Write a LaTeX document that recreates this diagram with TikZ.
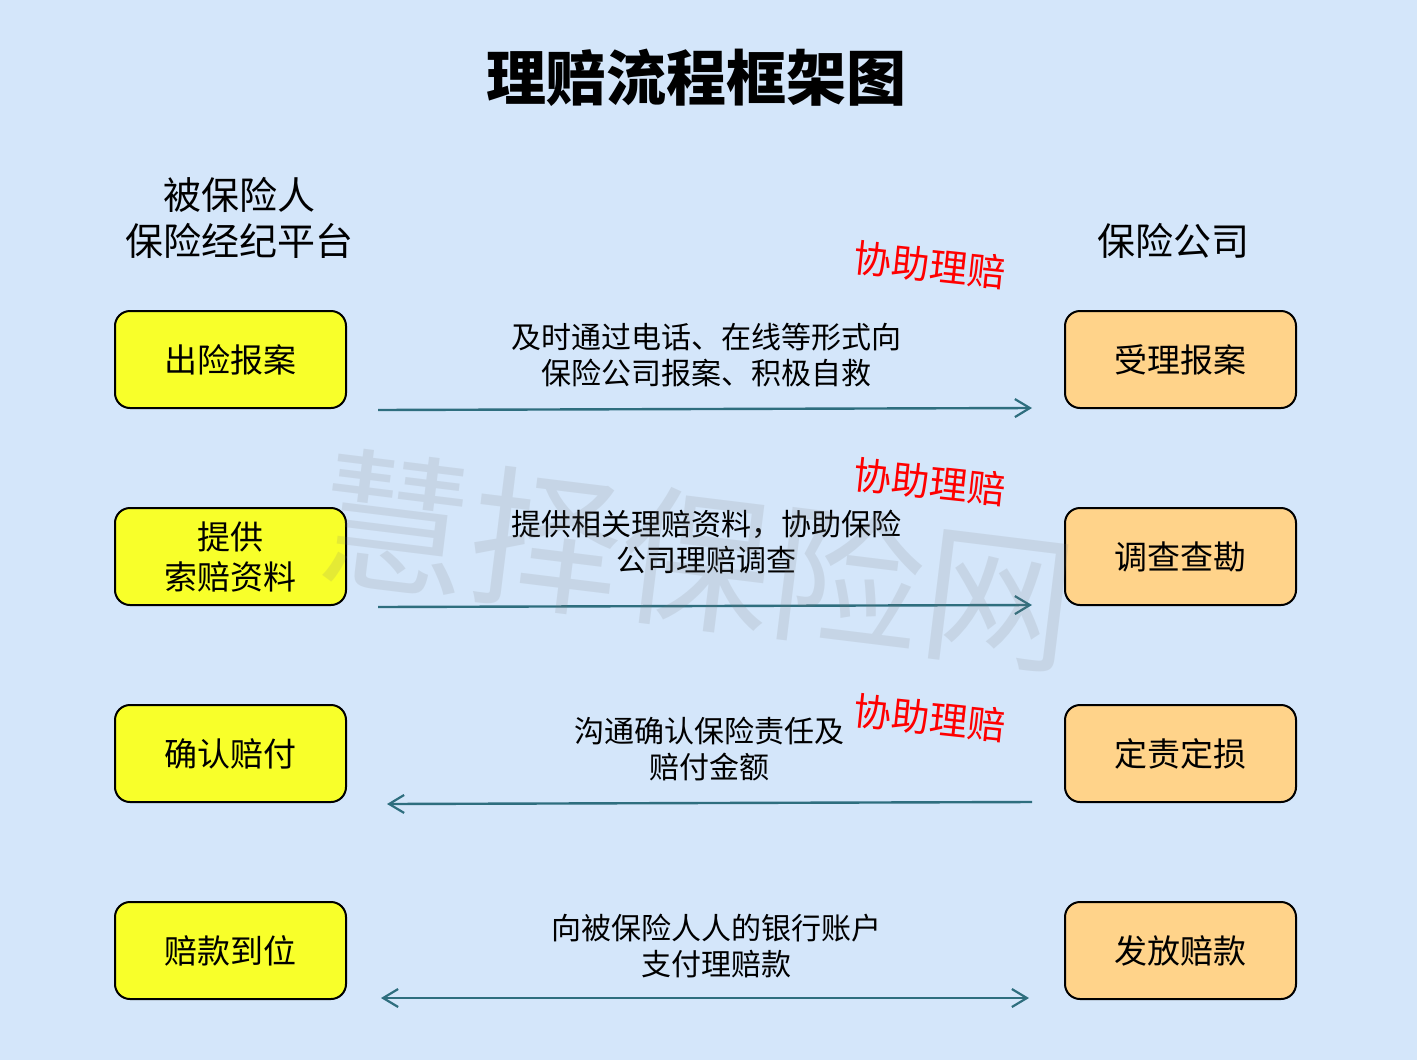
\documentclass[tikz,border=0pt]{standalone}
\usepackage{fontspec}
\setmainfont{Noto Sans CJK SC}
\newfontfamily\cjk{Noto Sans CJK SC}
\usetikzlibrary{arrows.meta}
\definecolor{bgblue}{RGB}{212,230,250}
\definecolor{boxyellow}{RGB}{248,255,42}
\definecolor{boxorange}{RGB}{255,211,138}
\definecolor{arrowteal}{RGB}{46,110,126}
\definecolor{wmgray}{RGB}{120,120,120}
\tikzset{
  leftbox/.style={draw=black, line width=1pt, rounded corners=7.5pt, fill=boxyellow,
    minimum width=115.5pt, minimum height=48.5pt, align=center, inner sep=0pt,
    font=\cjk\fontsize{16.5pt}{20pt}\selectfont},
  rightbox/.style={leftbox, fill=boxorange},
  header/.style={font=\cjk\fontsize{19pt}{23pt}\selectfont, inner sep=0pt, align=center},
  desc/.style={font=\cjk\fontsize{15pt}{18pt}\selectfont, inner sep=0pt, align=center},
  helper/.style={font=\cjk\fontsize{19pt}{23pt}\selectfont, text=red, inner sep=0pt, rotate=-6},
  flow/.style={draw=arrowteal, line width=1.2pt},
  tip/.tip={Straight Barb[length=7.5pt,width=9pt,line width=1.1pt]},
  watermark/.style={font=\cjk\fontsize{76pt}{76pt}\selectfont, text=wmgray, text opacity=0.15, inner sep=0pt, rotate=-7}
}
\begin{document}
\begin{tikzpicture}[x=0.5pt,y=0.5pt]
\fill[bgblue] (0,0) rectangle (1417,-1060);
\useasboundingbox (0,0) rectangle (1417,-1060);

% title
\node[font=\cjk\bfseries\fontsize{30pt}{34pt}\selectfont, inner sep=0pt] (title) at (696,-78) {理赔流程框架图};

% headers
\node[header] (hl1) at (239,-195) {被保险人};
\node[header] (hl2) at (239,-241) {保险经纪平台};
\node[header] (hr) at (1173,-241) {保险公司};

% boxes
\node[leftbox] (l1) at (230.5,-359.5) {出险报案};
\node[leftbox] (l2) at (230.5,-556.5) {提供\\索赔资料};
\node[leftbox] (l3) at (230.5,-753.5) {确认赔付};
\node[leftbox] (l4) at (230.5,-950.5) {赔款到位};
\node[rightbox] (r1) at (1180.5,-359.5) {受理报案};
\node[rightbox] (r2) at (1180.5,-556.5) {调查查勘};
\node[rightbox] (r3) at (1180.5,-753.5) {定责定损};
\node[rightbox] (r4) at (1180.5,-950.5) {发放赔款};

% descriptions
\node[desc] (d1) at (706,-355) {及时通过电话、在线等形式向\\保险公司报案、积极自救};
\node[desc] (d2) at (706,-542) {提供相关理赔资料，协助保险\\公司理赔调查};
\node[desc] (d3) at (709,-749) {沟通确认保险责任及\\赔付金额};
\node[desc] (d4) at (716,-946) {向被保险人人的银行账户\\支付理赔款};

% helper labels
\node[helper] (h1) at (930,-265) {协助理赔};
\node[helper] (h2) at (930,-482) {协助理赔};
\node[helper] (h3) at (930,-718) {协助理赔};

% arrows
\coordinate (a1s) at (378,-410);
\coordinate (a1e) at (1032,-408);
\coordinate (a2s) at (378,-607);
\coordinate (a2e) at (1032,-605);
\coordinate (a3s) at (1032,-802);
\coordinate (a3e) at (387,-804);
\coordinate (a4s) at (381,-998);
\coordinate (a4e) at (1029,-998);
\draw[flow,-tip] (a1s) -- (a1e);
\draw[flow,-tip] (a2s) -- (a2e);
\draw[flow,-tip] (a3s) -- (a3e);
\draw[flow,tip-tip] (a4s) -- (a4e);

% watermark
\node[watermark] (wm) at (697,-560) {慧择保险网};
\end{tikzpicture}
\end{document}
